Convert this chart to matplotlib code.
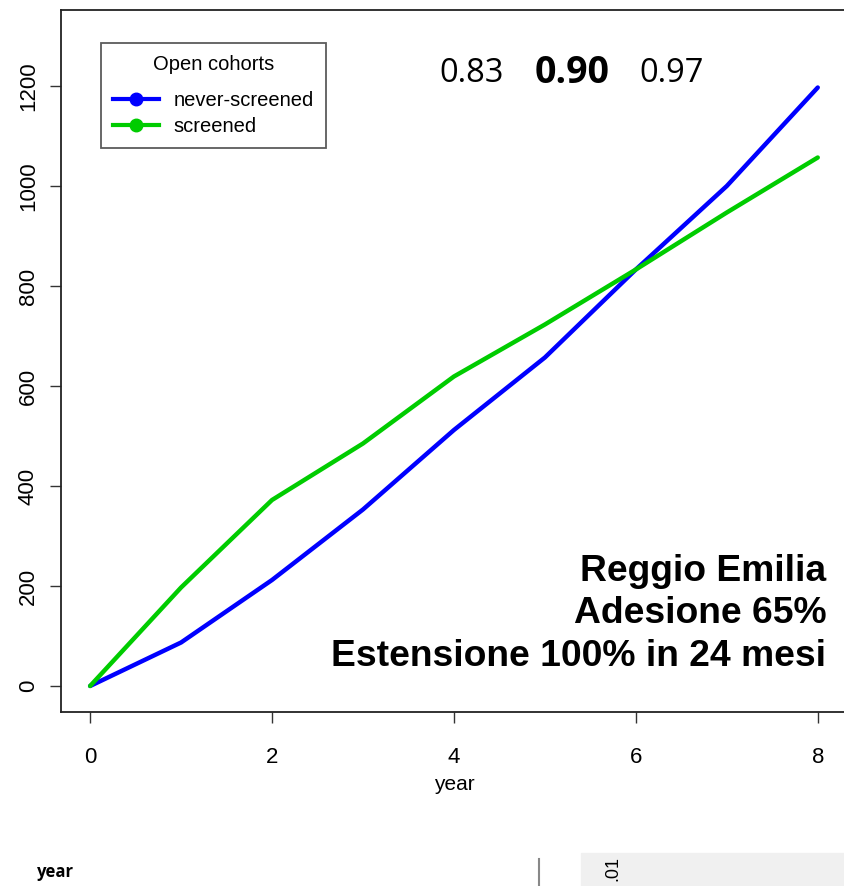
import matplotlib.pyplot as plt
from matplotlib.patches import Rectangle

# Data
years = [0, 1, 2, 3, 4, 5, 6, 7, 8]
never_screened = [0, 87, 212, 353, 512, 657, 833, 1000, 1197]
screened = [0, 197, 372, 485, 619, 723, 833, 947, 1057]
series_labels = ["never-screened", "screened"]
series_colors = ["#0000ff", "#00cc00"]
legend_title = "Open cohorts"
ratios = ["0.83", "0.90", "0.97"]
note_lines = ["Reggio Emilia", "Adesione 65%", "Estensione 100% in 24 mesi"]
x_ticks = [0, 2, 4, 6, 8]
y_ticks = [0, 200, 400, 600, 800, 1000, 1200]

plt.rcParams['font.family'] = ['Liberation Sans', 'DejaVu Sans']

fig = plt.figure(figsize=(8.45, 8.86), dpi=100)
ax = fig.add_axes([0.0722, 0.1964, 0.930, 0.7923])

ax.plot(years, never_screened, color=series_colors[0], lw=3.2,
        label=series_labels[0], solid_capstyle='round')
ax.plot(years, screened, color=series_colors[1], lw=3.2,
        label=series_labels[1], solid_capstyle='round')

ax.set_xlim(-0.32, 8.32)
ax.set_ylim(-52, 1352)
ax.set_xticks(x_ticks)
ax.set_yticks(y_ticks)
ax.tick_params(axis='both', labelsize=16, length=8, width=1, color='#333333')
ax.tick_params(axis='x', pad=17)
ax.tick_params(axis='y', pad=8)
for lab in ax.get_yticklabels():
    lab.set_rotation(90)
    lab.set_va('center')
for sp in ax.spines.values():
    sp.set_linewidth(1.3)
    sp.set_color('#222222')

ax.set_xlabel("year", fontsize=15, labelpad=5)

# legend with line+dot handles
handles = [plt.Line2D([0], [0], color=c, lw=3, marker='o', markersize=9)
           for c in series_colors]
leg = ax.legend(handles, series_labels, title=legend_title,
                loc='upper left', bbox_to_anchor=(0.051, 0.953),
                borderaxespad=0, fontsize=14.5, title_fontsize=14.5,
                frameon=True, fancybox=False, edgecolor='#333333',
                handlelength=2.3, handletextpad=0.7, borderpad=0.6,
                labelspacing=0.35)
leg.get_frame().set_linewidth(1.3)
leg._legend_box.sep = 12

# ratio annotation
ratio_font = ['Open Sans', 'DejaVu Sans']
fig.text(0.558, 0.917, ratios[0], fontsize=23.5, family=ratio_font,
         ha='center', va='center')
fig.text(0.677, 0.918, ratios[1], fontsize=27, family=ratio_font,
         weight='bold', ha='center', va='center')
fig.text(0.795, 0.917, ratios[2], fontsize=23.5, family=ratio_font,
         ha='center', va='center')

# bold note in lower right
for i, line in enumerate(note_lines):
    fig.text(0.978, 0.355 - i * 0.0478, line, fontsize=26.8, weight='bold',
             ha='right', va='center')

# remnants of the slide below the chart
fig.text(0.044, 0.016, "year", fontsize=12, weight='bold',
         family=['Open Sans', 'DejaVu Sans'], ha='left', va='center')
fig.add_artist(plt.Line2D([0.638, 0.638], [0.0, 0.03], color='#888888', lw=1.5))
fig.add_artist(Rectangle((0.688, 0.0), 0.32, 0.037, color='#f0f0f0',
                         transform=fig.transFigure, zorder=0))
fig.text(0.725, 0.02, ".01", fontsize=13, rotation=90, ha='center', va='center')

fig.savefig("out.png", dpi=100)
